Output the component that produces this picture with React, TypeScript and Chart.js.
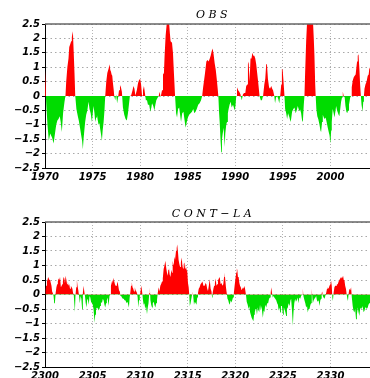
import { useEffect, useRef } from "react";
import { Chart, registerables } from "chart.js";

Chart.register(...registerables);

// ---------- data ----------
const yTickValues = [-2.5, -2, -1.5, -1, -0.5, 0, 0.5, 1, 1.5, 2, 2.5];
const obsTickYears = [1970, 1975, 1980, 1985, 1990, 1995, 2000];
const contTickYears = [2300, 2305, 2310, 2315, 2320, 2325, 2330];

const obsTime = [
  1970.0, 1970.08, 1970.12, 1970.26, 1970.4, 1970.55, 1970.75, 1970.9, 1971.05, 1971.18,
  1971.3, 1971.42, 1971.55, 1971.65, 1971.77, 1971.9, 1972.05, 1972.15, 1972.23, 1972.35,
  1972.47, 1972.55, 1972.65, 1972.75, 1972.82, 1972.93, 1973.02, 1973.1, 1973.18, 1973.3,
  1973.45, 1973.55, 1973.7, 1973.82, 1973.9, 1973.98, 1974.05, 1974.12, 1974.22, 1974.33,
  1974.45, 1974.58, 1974.68, 1974.8, 1974.93, 1975.02, 1975.1, 1975.2, 1975.28, 1975.38,
  1975.46, 1975.55, 1975.63, 1975.72, 1975.8, 1975.9, 1975.98, 1976.06, 1976.16, 1976.25,
  1976.33, 1976.44, 1976.55, 1976.68, 1976.79, 1976.86, 1976.93, 1977.0, 1977.07, 1977.14,
  1977.21, 1977.28, 1977.38, 1977.48, 1977.58, 1977.68, 1977.78, 1977.88, 1977.98, 1978.08,
  1978.19, 1978.33, 1978.47, 1978.6, 1978.72, 1978.82, 1978.92, 1979.05, 1979.2, 1979.3,
  1979.4, 1979.5, 1979.65, 1979.78, 1979.88, 1980.0, 1980.1, 1980.2, 1980.3, 1980.4,
  1980.5, 1980.6, 1980.72, 1980.82, 1980.95, 1981.07, 1981.18, 1981.25, 1981.38, 1981.5,
  1981.6, 1981.7, 1981.85, 1981.95, 1982.05, 1982.15, 1982.3, 1982.4, 1982.5, 1982.57,
  1982.68, 1982.82, 1982.95, 1983.03, 1983.12, 1983.2, 1983.35, 1983.45, 1983.55, 1983.67,
  1983.78, 1983.88, 1983.98, 1984.1, 1984.2, 1984.3, 1984.42, 1984.55, 1984.65, 1984.78,
  1984.9, 1985.02, 1985.15, 1985.3, 1985.45, 1985.58, 1985.7, 1985.82, 1985.95, 1986.1,
  1986.25, 1986.4, 1986.52, 1986.62, 1986.72, 1986.82, 1986.96, 1987.08, 1987.2, 1987.32,
  1987.41, 1987.52, 1987.62, 1987.72, 1987.83, 1987.95, 1988.05, 1988.15, 1988.22, 1988.3,
  1988.36, 1988.46, 1988.53, 1988.6, 1988.68, 1988.78, 1988.88, 1988.95, 1989.05, 1989.13,
  1989.22, 1989.3, 1989.4, 1989.51, 1989.62, 1989.76, 1989.85, 1989.93, 1990.02, 1990.1,
  1990.18, 1990.3, 1990.42, 1990.55, 1990.68, 1990.8, 1990.92, 1991.05, 1991.15, 1991.26,
  1991.33, 1991.4, 1991.5, 1991.6, 1991.7, 1991.8, 1991.9, 1992.0, 1992.1, 1992.2,
  1992.3, 1992.4, 1992.55, 1992.68, 1992.8, 1992.92, 1993.05, 1993.15, 1993.25, 1993.32,
  1993.43, 1993.55, 1993.65, 1993.78, 1993.88, 1993.97, 1994.1, 1994.18, 1994.28, 1994.4,
  1994.52, 1994.62, 1994.72, 1994.83, 1994.9, 1994.98, 1995.05, 1995.17, 1995.24, 1995.35,
  1995.45, 1995.55, 1995.7, 1995.8, 1995.87, 1995.97, 1996.1, 1996.22, 1996.35, 1996.45,
  1996.57, 1996.7, 1996.8, 1996.92, 1997.02, 1997.1, 1997.2, 1997.27, 1997.34, 1997.45,
  1997.55, 1997.7, 1997.85, 1998.0, 1998.15, 1998.25, 1998.32, 1998.4, 1998.45, 1998.52,
  1998.62, 1998.72, 1998.85, 1998.95, 1999.02, 1999.12, 1999.2, 1999.3, 1999.4, 1999.5,
  1999.6, 1999.72, 1999.82, 1999.9, 2000.0, 2000.08, 2000.14, 2000.24, 2000.34, 2000.42,
  2000.52, 2000.6, 2000.7, 2000.77, 2000.86, 2000.94, 2001.03, 2001.12, 2001.22, 2001.3,
  2001.4, 2001.5, 2001.58, 2001.68, 2001.76, 2001.85, 2001.95, 2002.08, 2002.17, 2002.24,
  2002.35, 2002.45, 2002.55, 2002.65, 2002.73, 2002.8, 2002.87, 2002.95, 2003.05, 2003.12,
  2003.2, 2003.27, 2003.38, 2003.45, 2003.52, 2003.58, 2003.68, 2003.8, 2003.92, 2004.02,
  2004.1, 2004.3,
];
const obsAnom = [
  0.9, 0.3, -0.2, -1.0, -1.55, -1.3, -1.45, -1.65, -1.3, -1.0,
  -0.85, -0.8, -0.7, -0.9, -1.25, -0.6, -0.2, 0.0, 0.5, 1.0,
  1.3, 1.7, 1.8, 1.9, 2.05, 2.25, 1.5, 0.8, 0.0, -0.45,
  -0.7, -0.85, -1.15, -1.4, -1.55, -1.85, -1.5, -1.25, -0.9, -0.65,
  -0.5, -0.2, -0.45, -0.6, -0.9, -0.6, -0.35, -0.6, -0.9, -0.75,
  -0.65, -0.85, -1.0, -0.95, -1.15, -1.35, -1.55, -1.2, -0.9, -0.5,
  0.0, 0.5, 0.8, 0.95, 1.1, 0.9, 0.85, 0.75, 0.7, 0.45,
  0.25, 0.0, -0.15, 0.05, -0.25, -0.05, 0.2, 0.38, 0.3, 0.15,
  -0.4, -0.65, -0.8, -0.85, -0.6, -0.3, 0.0, 0.02, 0.2, 0.35,
  0.25, 0.02, 0.2, 0.45, 0.55, 0.6, 0.4, 0.02, 0.2, 0.35,
  0.1, -0.15, -0.15, -0.3, -0.3, -0.55, -0.4, -0.25, -0.35, -0.5,
  -0.3, -0.15, -0.05, 0.0, 0.15, -0.05, 0.2, 0.75, 0.8, 1.4,
  2.1, 2.6, 2.7, 2.6, 2.2, 1.9, 1.85, 1.5, 0.8, 0.0,
  -0.6, -0.75, -0.45, -0.4, -0.65, -0.9, -0.6, -0.55, -0.8, -1.1,
  -0.9, -0.75, -0.65, -0.6, -0.55, -0.45, -0.6, -0.55, -0.45, -0.3,
  -0.25, -0.15, 0.0, 0.3, 0.55, 0.8, 1.2, 1.25, 1.2, 1.3,
  1.4, 1.55, 1.65, 1.45, 1.15, 0.9, 0.6, 0.25, 0.0, -0.6,
  -0.9, -1.6, -1.95, -1.5, -1.3, -1.1, -1.77, -1.3, -1.0, -0.9,
  -0.6, -0.45, -0.3, -0.2, -0.4, -0.3, -0.4, -0.5, -0.35, 0.0,
  0.3, 0.2, 0.15, 0.05, -0.15, 0.05, 0.1, 0.1, 0.35, 0.4,
  1.1, 1.2, 0.5, 1.3, 1.3, 1.5, 1.4, 1.4, 1.3, 1.1,
  0.8, 0.5, 0.0, -0.15, -0.15, 0.0, 0.4, 0.6, 1.1, 1.15,
  0.6, 0.3, 0.25, 0.35, 0.25, 0.2, 0.0, -0.25, -0.05, 0.0,
  -0.1, -0.25, 0.0, 0.4, 0.95, 0.9, 0.6, 0.0, -0.45, -0.6,
  -0.8, -0.6, -0.75, -0.9, -0.8, -0.55, -0.45, -0.4, -0.6, -0.5,
  -0.35, -0.5, -0.45, -0.6, -0.85, -0.9, -0.3, 0.0, 0.8, 1.9,
  2.6, 2.9, 3.0, 2.9, 2.7, 2.0, 1.4, 0.4, 0.0, -0.45,
  -0.7, -0.8, -1.0, -1.2, -1.25, -0.9, -0.65, -0.75, -0.8, -0.75,
  -0.9, -1.1, -1.25, -1.35, -1.65, -1.2, -0.9, -0.45, -0.6, -0.75,
  -0.55, -0.35, -0.5, -0.5, -0.65, -0.7, -0.45, -0.2, -0.05, 0.15,
  0.0, -0.05, -0.35, -0.55, -0.6, -0.5, -0.3, -0.05, 0.0, 0.3,
  0.55, 0.65, 0.7, 0.75, 1.0, 1.2, 1.4, 1.45, 0.9, 0.4,
  0.0, -0.3, -0.55, -0.2, 0.0, 0.25, 0.4, 0.5, 0.7, 0.75,
  1.0, 0.75,
];

const contTime = [
  2300.0, 2300.06, 2300.12, 2300.2, 2300.26, 2300.33, 2300.4, 2300.47, 2300.54, 2300.61,
  2300.68, 2300.75, 2300.82, 2300.9, 2300.97, 2301.05, 2301.12, 2301.2, 2301.28, 2301.35,
  2301.42, 2301.5, 2301.58, 2301.67, 2301.75, 2301.82, 2301.88, 2301.95, 2302.03, 2302.1,
  2302.16, 2302.25, 2302.32, 2302.4, 2302.47, 2302.55, 2302.63, 2302.72, 2302.8, 2302.88,
  2302.95, 2303.02, 2303.08, 2303.14, 2303.2, 2303.28, 2303.35, 2303.42, 2303.5, 2303.58,
  2303.66, 2303.74, 2303.82, 2303.9, 2303.98, 2304.06, 2304.13, 2304.2, 2304.28, 2304.36,
  2304.44, 2304.52, 2304.6, 2304.68, 2304.76, 2304.84, 2304.93, 2305.02, 2305.1, 2305.16,
  2305.21, 2305.28, 2305.36, 2305.46, 2305.55, 2305.63, 2305.72, 2305.8, 2305.88, 2305.98,
  2306.08, 2306.16, 2306.25, 2306.33, 2306.42, 2306.5, 2306.58, 2306.68, 2306.78, 2306.86,
  2306.93, 2307.0, 2307.07, 2307.14, 2307.21, 2307.28, 2307.35, 2307.42, 2307.49, 2307.56,
  2307.63, 2307.7, 2307.78, 2307.86, 2307.93, 2308.0, 2308.09, 2308.18, 2308.27, 2308.36,
  2308.44, 2308.52, 2308.6, 2308.68, 2308.75, 2308.82, 2308.9, 2308.98, 2309.04, 2309.12,
  2309.2, 2309.28, 2309.36, 2309.44, 2309.52, 2309.6, 2309.67, 2309.74, 2309.8, 2309.88,
  2309.96, 2310.04, 2310.1, 2310.17, 2310.24, 2310.3, 2310.37, 2310.45, 2310.54, 2310.62,
  2310.72, 2310.8, 2310.88, 2310.96, 2311.02, 2311.08, 2311.16, 2311.25, 2311.33, 2311.42,
  2311.5, 2311.6, 2311.68, 2311.77, 2311.85, 2311.95, 2312.03, 2312.12, 2312.2, 2312.3,
  2312.38, 2312.47, 2312.56, 2312.65, 2312.75, 2312.82, 2312.9, 2312.96, 2313.03, 2313.1,
  2313.18, 2313.28, 2313.35, 2313.42, 2313.48, 2313.53, 2313.6, 2313.67, 2313.77, 2313.84,
  2313.9, 2313.98, 2314.04, 2314.12, 2314.2, 2314.28, 2314.37, 2314.44, 2314.51, 2314.58,
  2314.65, 2314.72, 2314.8, 2314.88, 2314.95, 2315.03, 2315.1, 2315.16, 2315.22, 2315.3,
  2315.38, 2315.46, 2315.52, 2315.58, 2315.66, 2315.75, 2315.84, 2315.92, 2316.0, 2316.08,
  2316.16, 2316.25, 2316.35, 2316.45, 2316.55, 2316.65, 2316.78, 2316.88, 2316.96, 2317.05,
  2317.13, 2317.22, 2317.31, 2317.41, 2317.5, 2317.56, 2317.62, 2317.7, 2317.78, 2317.86,
  2317.94, 2318.02, 2318.1, 2318.18, 2318.27, 2318.36, 2318.46, 2318.55, 2318.65, 2318.74,
  2318.82, 2318.88, 2318.95, 2319.02, 2319.1, 2319.18, 2319.26, 2319.34, 2319.42, 2319.5,
  2319.58, 2319.68, 2319.76, 2319.85, 2319.93, 2320.02, 2320.1, 2320.16, 2320.21, 2320.28,
  2320.35, 2320.43, 2320.5, 2320.58, 2320.66, 2320.74, 2320.82, 2320.9, 2320.98, 2321.05,
  2321.12, 2321.2, 2321.3, 2321.4, 2321.48, 2321.55, 2321.63, 2321.72, 2321.8, 2321.9,
  2321.98, 2322.05, 2322.13, 2322.2, 2322.28, 2322.36, 2322.44, 2322.52, 2322.6, 2322.68,
  2322.76, 2322.84, 2322.9, 2322.98, 2323.06, 2323.15, 2323.25, 2323.35, 2323.45, 2323.55,
  2323.65, 2323.72, 2323.78, 2323.86, 2323.94, 2324.02, 2324.1, 2324.2, 2324.3, 2324.4,
  2324.48, 2324.56, 2324.65, 2324.72, 2324.8, 2324.9, 2324.97, 2325.03, 2325.1, 2325.17,
  2325.26, 2325.35, 2325.43, 2325.52, 2325.6, 2325.7, 2325.8, 2325.87, 2325.96, 2326.05,
  2326.12, 2326.2, 2326.29, 2326.38, 2326.46, 2326.55, 2326.64, 2326.72, 2326.82, 2326.92,
  2327.02, 2327.1, 2327.16, 2327.27, 2327.36, 2327.45, 2327.54, 2327.62, 2327.7, 2327.8,
  2327.9, 2327.97, 2328.04, 2328.1, 2328.15, 2328.24, 2328.32, 2328.42, 2328.5, 2328.58,
  2328.67, 2328.76, 2328.85, 2328.94, 2329.02, 2329.08, 2329.14, 2329.2, 2329.28, 2329.38,
  2329.46, 2329.55, 2329.64, 2329.72, 2329.8, 2329.9, 2330.0, 2330.07, 2330.14, 2330.2,
  2330.26, 2330.33, 2330.42, 2330.5, 2330.59, 2330.68, 2330.77, 2330.86, 2330.94, 2331.03,
  2331.12, 2331.2, 2331.28, 2331.33, 2331.4, 2331.47, 2331.55, 2331.63, 2331.71, 2331.78,
  2331.84, 2331.92, 2331.99, 2332.08, 2332.17, 2332.25, 2332.34, 2332.42, 2332.52, 2332.6,
  2332.69, 2332.78, 2332.87, 2332.95, 2333.04, 2333.12, 2333.22, 2333.3, 2333.39, 2333.48,
  2333.57, 2333.66, 2333.74, 2333.82, 2333.92, 2334.0, 2334.08, 2334.2,
];
const contAnom = [
  0.0, 0.15, 0.3, 0.45, 0.5, 0.6, 0.55, 0.5, 0.5, 0.4,
  0.3, 0.1, 0.05, -0.05, -0.3, -0.25, 0.05, 0.25, 0.35, 0.45,
  0.55, 0.5, 0.6, 0.25, 0.3, 0.35, 0.45, 0.6, 0.55, 0.4,
  0.65, 0.5, 0.35, 0.45, 0.3, 0.35, 0.2, 0.3, 0.25, 0.2,
  0.05, 0.0, -0.3, -0.6, -0.05, 0.25, 0.5, 0.3, 0.15, -0.05,
  -0.3, -0.05, -0.15, -0.5, 0.05, 0.3, 0.1, -0.05, -0.3, -0.45,
  -0.15, -0.2, -0.35, -0.05, -0.1, -0.25, -0.3, -0.35, -0.5, -0.75,
  -0.97, -0.7, -0.45, -0.5, -0.45, -0.55, -0.5, -0.4, -0.25, -0.3,
  -0.15, -0.2, -0.35, -0.45, -0.3, -0.2, -0.1, -0.4, -0.05, 0.0,
  0.3, 0.4, 0.5, 0.4, 0.58, 0.45, 0.35, 0.3, 0.3, 0.35,
  0.45, 0.3, 0.15, 0.1, -0.05, -0.05, -0.1, -0.15, -0.15, -0.2,
  -0.2, -0.25, -0.3, -0.25, -0.35, -0.45, -0.1, 0.1, 0.3, 0.42,
  0.25, 0.2, 0.1, 0.25, 0.15, 0.1, 0.05, -0.1, -0.45, -0.2,
  -0.05, 0.1, 0.3, 0.2, 0.0, -0.2, -0.35, -0.3, -0.5, -0.4,
  -0.68, -0.45, -0.3, 0.05, 0.25, -0.2, -0.35, -0.45, -0.3, -0.25,
  -0.35, -0.45, -0.3, -0.2, 0.05, 0.25, 0.1, 0.3, 0.35, 0.45,
  0.55, 0.88, 1.0, 1.16, 0.9, 0.75, 0.65, 0.85, 0.93, 0.7,
  0.6, 0.85, 0.75, 1.16, 1.05, 1.0, 1.3, 1.2, 1.5, 1.6,
  1.72, 1.45, 1.2, 1.05, 0.95, 1.1, 1.28, 1.0, 0.9, 1.05,
  1.1, 0.9, 1.0, 0.85, 0.8, 0.4, 0.25, 0.0, -0.4, -0.3,
  -0.15, 0.0, 0.1, -0.05, -0.35, -0.25, -0.3, -0.35, -0.1, 0.05,
  0.2, 0.25, 0.35, 0.4, 0.45, 0.3, 0.3, 0.4, 0.35, 0.2,
  0.12, 0.3, 0.53, 0.2, 0.1, -0.1, 0.05, 0.2, 0.3, 0.4,
  0.55, 0.3, 0.35, 0.48, 0.55, 0.6, 0.35, 0.4, 0.3, 0.35,
  0.6, 0.76, 0.5, 0.25, 0.05, -0.15, -0.2, -0.3, -0.35, -0.2,
  -0.28, -0.2, -0.1, 0.05, 0.3, 0.55, 0.76, 0.9, 0.85, 0.6,
  0.6, 0.4, 0.3, 0.25, 0.15, 0.2, 0.25, 0.2, 0.3, 0.15,
  0.0, -0.25, -0.35, -0.5, -0.4, -0.6, -0.7, -0.8, -0.85, -0.92,
  -0.7, -0.6, -0.5, -0.5, -0.7, -0.45, -0.55, -0.6, -0.35, -0.55,
  -0.4, -0.65, -0.8, -0.55, -0.6, -0.35, -0.45, -0.3, -0.3, -0.15,
  -0.1, 0.05, 0.25, 0.05, -0.1, -0.05, -0.1, -0.15, -0.2, -0.3,
  -0.35, -0.55, -0.45, -0.62, -0.4, -0.4, -0.6, -0.7, -0.45, -0.5,
  -0.6, -0.74, -0.5, -0.45, -0.3, -0.4, -0.2, -0.15, -0.55, -1.08,
  -0.6, -0.3, -0.15, -0.25, -0.2, -0.1, -0.3, -0.1, -0.15, -0.05,
  0.0, 0.2, -0.05, -0.2, -0.3, -0.45, -0.4, -0.62, -0.5, -0.5,
  -0.35, -0.3, 0.2, -0.1, -0.3, -0.2, -0.15, -0.1, -0.05, -0.2,
  -0.25, -0.2, -0.4, -0.2, -0.15, 0.05, 0.1, -0.05, -0.1, -0.15,
  -0.05, 0.05, 0.2, 0.25, 0.2, 0.3, 0.35, 0.47, 0.3, -0.1,
  -0.22, 0.05, 0.25, 0.3, 0.3, 0.35, 0.35, 0.45, 0.5, 0.55,
  0.6, 0.55, 0.6, 0.65, 0.5, 0.5, 0.3, 0.2, 0.0, -0.15,
  -0.22, 0.05, 0.2, 0.15, 0.25, -0.1, -0.4, -0.55, -0.62, -0.5,
  -0.85, -0.7, -0.45, -0.6, -0.74, -0.5, -0.45, -0.5, -0.4, -0.6,
  -0.57, -0.45, -0.45, -0.5, -0.45, -0.35, -0.3, -0.3,
];

// ---------- styling ----------
const RED = "rgb(255,0,0)";
const GREEN = "rgb(0,220,0)";
const TICK_FONT = { family: "DejaVu Sans", size: 10, weight: "bold" as const, style: "italic" as const };

function fmtY(v: number): string {
  if (v === 0) return "0";
  return v < 0 ? "\u2212" + String(-v) : String(v);
}

type PanelOpts = {
  times: number[];
  values: number[];
  xTicks: number[];
  xMin: number;
  xMax: number;
  title: string;
  titleY: number;
  padTop: number;
  axisH: number;
};

function buildChart(canvas: HTMLCanvasElement, o: PanelOpts) {
  const data = o.times.map((t, i) => ({ x: t, y: o.values[i] }));
  const frame = {
    id: "frame" + o.title,
    afterDraw(chart: any) {
      const { ctx, chartArea } = chart;
      ctx.save();
      ctx.strokeStyle = "#666";
      ctx.lineWidth = 1.5;
      ctx.beginPath();
      ctx.moveTo(chartArea.left, chartArea.top);
      ctx.lineTo(chartArea.right, chartArea.top);
      ctx.stroke();
      ctx.fillStyle = "#000";
      ctx.font = "italic 11px 'DejaVu Serif'";
      (ctx as any).letterSpacing = "3.5px";
      ctx.textAlign = "center";
      ctx.textBaseline = "alphabetic";
      ctx.fillText(o.title, (chartArea.left + chartArea.right) / 2 + 2, o.titleY);
      ctx.restore();
    },
  };
  return new Chart(canvas, {
    type: "line",
    data: {
      datasets: [
        {
          data,
          fill: { target: "origin", above: RED, below: GREEN },
          backgroundColor: RED,
          borderColor: "rgba(0,0,0,0)",
          borderWidth: 0,
          pointRadius: 0,
          tension: 0,
        },
      ],
    },
    options: {
      animation: false,
      responsive: false,
      events: [],
      layout: { padding: { top: o.padTop, right: 12, left: 0, bottom: 0 } },
      plugins: { legend: { display: false }, tooltip: { enabled: false }, title: { display: false } },
      scales: {
        x: {
          type: "linear",
          min: o.xMin,
          max: o.xMax,
          afterBuildTicks: (s: any) => {
            s.ticks = o.xTicks.map((v) => ({ value: v }));
          },
          afterFit: (s: any) => {
            s.height = o.axisH;
          },
          grid: { color: "#b4b4b4", drawTicks: false, lineWidth: 1 },
          border: { display: true, color: "#000", width: 1, dash: [1, 2] },
          ticks: {
            color: "#000",
            padding: 3,
            font: TICK_FONT,
            maxRotation: 0,
            autoSkip: false,
            callback: (v: any) => String(v),
          },
        },
        y: {
          type: "linear",
          min: -2.5,
          max: 2.5,
          afterBuildTicks: (s: any) => {
            s.ticks = yTickValues.map((v) => ({ value: v }));
          },
          afterFit: (s: any) => {
            s.width = 45;
          },
          grid: { color: "#a8a8a8", tickLength: 3, tickColor: "#000", lineWidth: 1 },
          border: { display: true, color: "#000", width: 1, dash: [1.5, 3] },
          ticks: {
            color: "#000",
            padding: 2,
            font: TICK_FONT,
            autoSkip: false,
            callback: (v: any) => fmtY(Number(v)),
          },
        },
      },
    },
    plugins: [frame],
  } as any);
}

export default function App() {
  const topRef = useRef<HTMLCanvasElement>(null);
  const botRef = useRef<HTMLCanvasElement>(null);

  useEffect(() => {
    const c1 = buildChart(topRef.current!, {
      times: obsTime,
      values: obsAnom,
      xTicks: obsTickYears,
      xMin: 1970,
      xMax: 2005,
      title: "OBS",
      titleY: 18,
      padTop: 24,
      axisH: 22,
    });
    const c2 = buildChart(botRef.current!, {
      times: contTime,
      values: contAnom,
      xTicks: contTickYears,
      xMin: 2300,
      xMax: 2335,
      title: "CONT\u2212LA",
      titleY: 27,
      padTop: 32,
      axisH: 23,
    });
    return () => {
      c1.destroy();
      c2.destroy();
    };
  }, []);

  return (
    <div
      style={{
        position: "fixed",
        left: 0,
        top: 0,
        width: 370,
        height: 378,
        overflow: "hidden",
        background: "#fff",
      }}
    >
      <canvas
        ref={topRef}
        width={390}
        height={190}
        style={{ position: "absolute", left: 0, top: 0, width: 390, height: 190 }}
      />
      <canvas
        ref={botRef}
        width={390}
        height={200}
        style={{ position: "absolute", left: 0, top: 190, width: 390, height: 200 }}
      />
    </div>
  );
}
